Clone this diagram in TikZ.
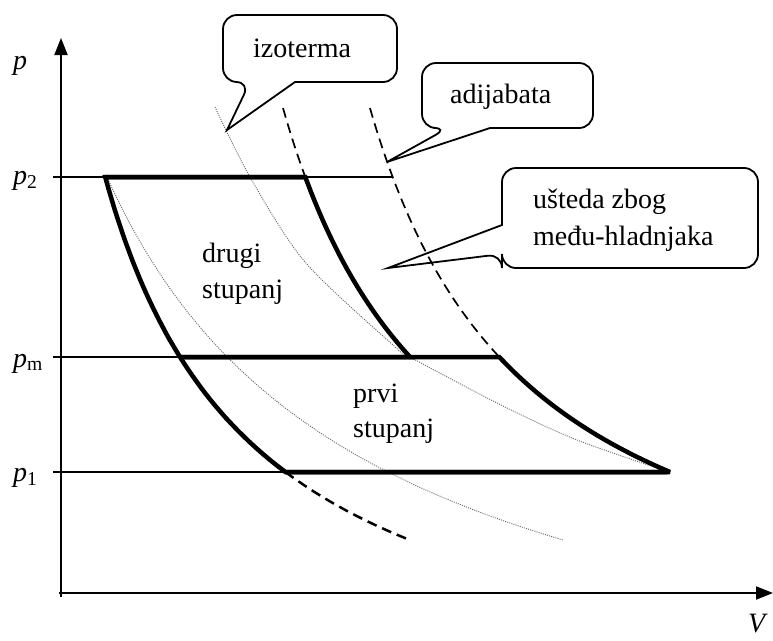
\documentclass[tikz,border=0pt]{standalone}
\usepackage{fontspec}
\setmainfont{Liberation Serif}
\usetikzlibrary{arrows.meta}
\begin{document}
\begin{tikzpicture}[x=1pt,y=-1pt,
  thickline/.style={line width=4.5pt, line join=miter},
  thinline/.style={line width=1.4pt},
  axisline/.style={line width=2pt, -{Triangle[length=17pt,width=13pt]}},
  adia/.style={line width=1.7pt, dash pattern=on 10pt off 6pt},
  adiathick/.style={line width=2.5pt, dash pattern=on 10pt off 6pt},
  iso/.style={line width=0.9pt, black!60, dash pattern=on 1pt off 1.2pt},
  bubble/.style={line width=1.8pt, line join=miter},
  lbl/.style={font=\fontsize{28}{34}\selectfont, inner sep=0pt, anchor=base west},
  declare function={
    adL(\t)=-30+992.6*exp(-1.15*ln((743-\t)/100));
    adM(\t)=124.3+888.7/((668-\t)/100);
    adR(\t)=208.4+904.7/((668-\t)/100);
    isI(\t)=-108.5+2325*exp(-1.3*ln((800-\t)/100));
  },
]
\useasboundingbox (0,0) rectangle (773,640);

% named points
\coordinate (Ytip) at (61,38);
\coordinate (Xtip) at (773,593);
\coordinate (t2) at (53,177);
\coordinate (t2e) at (393,177);
\coordinate (tm) at (53,357);
\coordinate (tme) at (499,357);
\coordinate (t1) at (53,472);
\coordinate (t1e) at (667,472);
\coordinate (c2L) at ({adL(177)},177);
\coordinate (c2R) at ({adM(177)},177);
\coordinate (cmL) at ({adL(357)},357);
\coordinate (cmR) at ({adR(357)},357);
\coordinate (c1L) at ({adL(472)},472);
\coordinate (c1R) at ({adR(472)},472);

% thin pressure lines
\draw[thinline] (t2) -- (t2e);
\draw[thinline] (tm) -- (tme);
\draw[thinline] (t1) -- (t1e);

% axes
\draw[axisline] (61,597) -- (Ytip);
\draw[axisline] (59,593) -- (Xtip);

% isotherms (dotted)
\draw[iso] plot[variable=\t, domain=177:540, samples=60] ({isI(\t)},{\t});
\draw[iso] plot[smooth] coordinates {(215,107) (250,177) (305,262) (393,345) (410,357) (505,407) (577,440) (666,471)};

% adiabats (dashed parts)
\draw[adia] plot[variable=\t, domain=108:177, samples=12] ({adM(\t)},{\t});
\draw[adia] plot[variable=\t, domain=108:357, samples=40] ({adR(\t)},{\t});
\draw[adiathick] plot[variable=\t, domain=472:540, samples=15] ({adL(\t)},{\t});

% compression stages (thick)
\draw[thickline, miter limit=4] (cmL) -- (cmR) -- plot[variable=\t, domain=357:472, samples=30] ({adR(\t)},{\t}) -- (c1L);
\draw[thickline] (c2R) -- plot[variable=\t, domain=177:472, samples=50] ({adL(\t)},{\t}) -- (t1e);
\draw[thickline] (c2L) -- plot[variable=\t, domain=177:357, samples=35] ({adM(\t)},{\t}) -- (cmL);

% callouts
\draw[bubble] (295,82) [rounded corners=14pt] -- (397,82) -- (397,15) -- (223,15) -- (223,82) -- (250,82)
  [sharp corners] -- (227,130) -- cycle;
\draw[bubble] (490,128) [rounded corners=14pt] -- (593,128) -- (593,63) -- (422,63) -- (422,128) -- (448,128)
  [sharp corners] -- (387,162) -- cycle;
\draw[bubble] (502,225) [rounded corners=14pt] -- (502,168) -- (758,168) -- (758,268) -- (502,268) -- (502,254)
  [sharp corners] -- (388,268) -- cycle;

% labels
\node[lbl] (lp) at (13,69) {\textit{p}};
\node[lbl] (lp2) at (13,184) {\textit{p}\textsubscript{2}};
\node[lbl] (lpm) at (13,367) {\textit{p}\textsubscript{m}};
\node[lbl] (lp1) at (13,481) {\textit{p}\textsubscript{1}};
\node[lbl] (lV) at (748,632) {\textit{V}};

\node[lbl] (iz) at (253,57) {izoterma};
\node[lbl] (ad) at (450,103) {adijabata};
\node[lbl] (us1) at (533,208) {ušteda zbog};
\node[lbl] (us2) at (533,245) {među-hladnjaka};
\node[lbl] (dr1) at (202,262) {drugi};
\node[lbl] (dr2) at (202,298) {stupanj};
\node[lbl] (pr1) at (353,402) {prvi};
\node[lbl] (pr2) at (353,437) {stupanj};
\end{tikzpicture}
\end{document}
